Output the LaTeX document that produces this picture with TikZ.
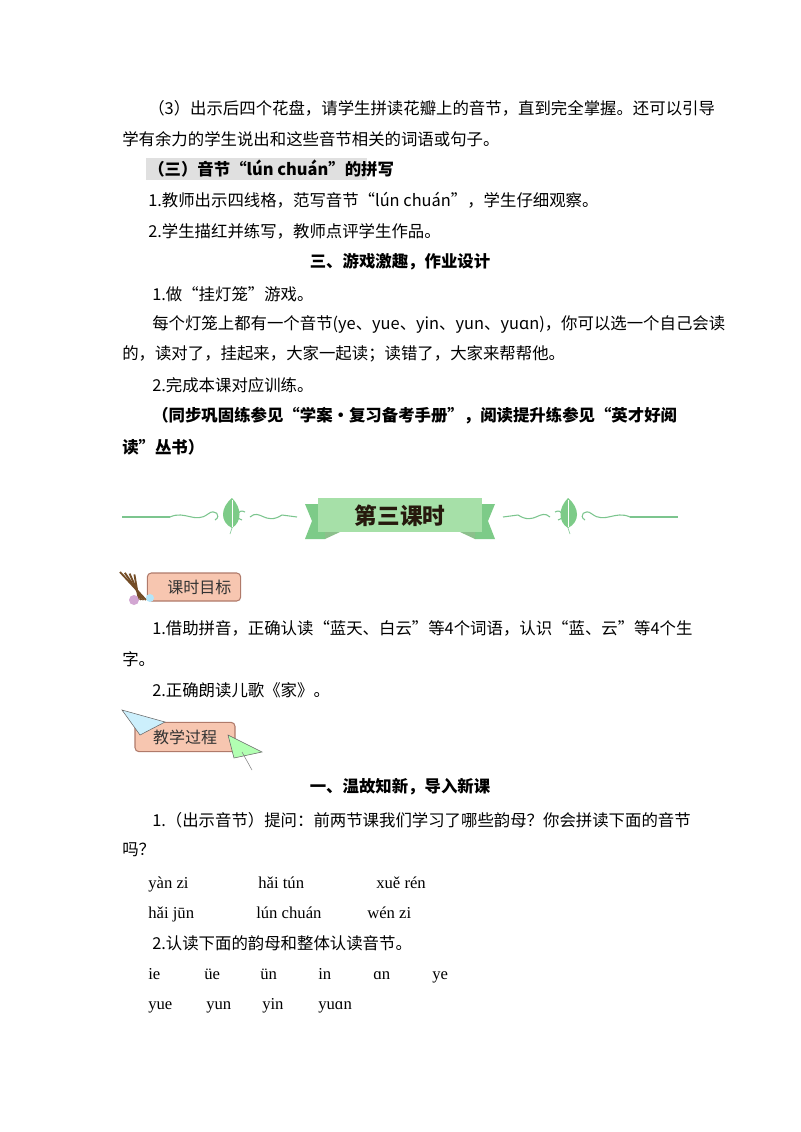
\documentclass[tikz,border=0pt]{standalone}
\usepackage{fontspec}
\setmainfont{Noto Sans CJK SC}
\newfontfamily\py{Liberation Serif}
\definecolor{gline}{HTML}{7CC58E}
\definecolor{gband}{HTML}{A6E0A8}
\definecolor{gdark}{HTML}{7DCB88}
\definecolor{lpink}{HTML}{F7C6B0}
\definecolor{lbord}{HTML}{B07A6A}
\tikzset{
  tx/.style={anchor=west,inner sep=0pt,font=\fontsize{12.3pt}{14pt}\selectfont},
  txb/.style={tx,font=\fontsize{12.3pt}{14pt}\selectfont\bfseries},
  pyt/.style={anchor=base west,inner sep=0pt,font=\py\fontsize{12.5pt}{14pt}\selectfont},
  lab/.style={draw=lbord,fill=lpink,rounded corners=3pt,line width=0.8pt,inner sep=0pt,font=\fontsize{12pt}{14pt}\selectfont\color{black!80}}
}
\begin{document}
\begin{tikzpicture}[x=0.75pt,y=-0.75pt]
\useasboundingbox (0,0) rectangle (800,1132);
\fill[white] (0,0) rectangle (800,1132);
\fill[black!12] (146,158) rectangle (367,180);
\node[tx] (l1) at (148,108) {（3）出示后四个花盘，请学生拼读花瓣上的音节，直到完全掌握。还可以引导};
\node[tx] (l2) at (122,139) {学有余力的学生说出和这些音节相关的词语或句子。};
\node[txb] (l3) at (148,169) {（三）音节“lún chuán”的拼写};
\node[tx] (l4) at (148,200) {1.教师出示四线格，范写音节“lún chuán”，学生仔细观察。};
\node[tx] (l5) at (148,231) {2.学生描红并练写，教师点评学生作品。};
\node[txb,anchor=center] (l6) at (400,262) {三、游戏激趣，作业设计};
\node[tx] (l7) at (152,294) {1.做“挂灯笼”游戏。};
\node[tx] (l8) at (152,324) {每个灯笼上都有一个音节(ye、yue、yin、yun、yuɑn)，你可以选一个自己会读};
\node[tx] (l9) at (122,354) {的，读对了，挂起来，大家一起读；读错了，大家来帮帮他。};
\node[tx] (l10) at (152,385) {2.完成本课对应训练。};
\node[txb] (l11) at (152,416) {（同步巩固练参见“学案·复习备考手册”，阅读提升练参见“英才好阅};
\node[txb] (l12) at (122,447) {读”丛书）};
% banner
\draw[gline,line width=0.8pt] (122,517) -- (170,517);
\draw[gline,line width=0.8pt] (630,517) -- (678,517);
\foreach \s in {1,-1}{
  \begin{scope}[shift={(400,0)},xscale=\s]
   \draw[gline,line width=0.8pt] (-230,517) .. controls (-215,510) and (-205,524) .. (-192,514) .. controls (-185,508) and (-178,516) .. (-185,520);
   \draw[gline,line width=0.8pt] (-150,517) .. controls (-140,508) and (-135,526) .. (-118,515) -- (-103,517);
   \draw[gline,line width=0.8pt] (-155,512) .. controls (-162,508) and (-166,518) .. (-158,520);
   \fill[gdark] (-168,528) .. controls (-180,522) and (-180,508) .. (-168,498) .. controls (-158,508) and (-158,522) .. (-168,528);
   \draw[white,line width=0.6pt] (-168,500) -- (-168,527);
   \draw[gline] (-168,528) -- (-170,534);
   \fill[gdark] (-95,504) -- (-75,504) -- (-75,539) -- (-95,539) -- (-88,521) -- cycle;
   \fill[green!45!black!45] (-75,532) -- (-60,532) -- (-75,539) -- cycle;
  \end{scope}}
\fill[gband] (318,498) rectangle (482,532);
\node[font=\fontsize{17pt}{20pt}\selectfont\bfseries,text=black!80!brown] (ban) at (400,516) {第三课时};
% label 1
\node[lab,minimum width=70pt,minimum height=21pt] (t1) at (194,587) {\hspace{8pt}课时目标};
\foreach \a in {0,8,16,24}{\draw[brown!60!black,line width=1.4pt] (120+\a*0.6,572+\a*0.1) -- (146-\a*0.3,600);}
\fill[violet!35] (134,600) circle (5);
\fill[cyan!30] (150,598) circle (4);
\node[tx] (m1) at (152,628) {1.借助拼音，正确认读“蓝天、白云”等4个词语，认识“蓝、云”等4个生};
\node[tx] (m2) at (122,659) {字。};
\node[tx] (m3) at (152,690) {2.正确朗读儿歌《家》。};
% label 2
\node[lab,minimum width=75pt,minimum height=22pt] (t2) at (185,737) {教学过程\hspace{4pt}};
\fill[cyan!20,draw=black!60,line width=0.4pt] (122,710) -- (165,722) -- (140,735) -- cycle;
\fill[green!30,draw=black!60,line width=0.4pt] (228,735) -- (262,752) -- (234,758) -- cycle;
\draw[black!50] (242,752) -- (252,770);
% lesson
\node[txb,anchor=center] (n1) at (400,787) {一、温故知新，导入新课};
\node[tx] (n2) at (152,820) {1.（出示音节）提问：前两节课我们学习了哪些韵母？你会拼读下面的音节};
\node[tx] (n3) at (122,850) {吗？};
\node[pyt] (p1) at (148,888) {yàn zi};
\node[pyt] (p2) at (258,888) {hǎi tún};
\node[pyt] (p3) at (376,888) {xuě rén};
\node[pyt] (p4) at (148,918) {hǎi jūn};
\node[pyt] (p5) at (256,918) {lún chuán};
\node[pyt] (p6) at (367,918) {wén zi};
\node[tx] (n4) at (152,943) {2.认读下面的韵母和整体认读音节。};
\node[pyt] (q1) at (148,979) {ie};
\node[pyt] (q2) at (204,979) {üe};
\node[pyt] (q3) at (260,979) {ün};
\node[pyt] (q4) at (318,979) {in};
\node[pyt] (q5) at (373,979) {ɑn};
\node[pyt] (q6) at (432,979) {ye};
\node[pyt] (q7) at (148,1009) {yue};
\node[pyt] (q8) at (206,1009) {yun};
\node[pyt] (q9) at (262,1009) {yin};
\node[pyt] (q10) at (318,1009) {yuɑn};
\end{tikzpicture}
\end{document}
